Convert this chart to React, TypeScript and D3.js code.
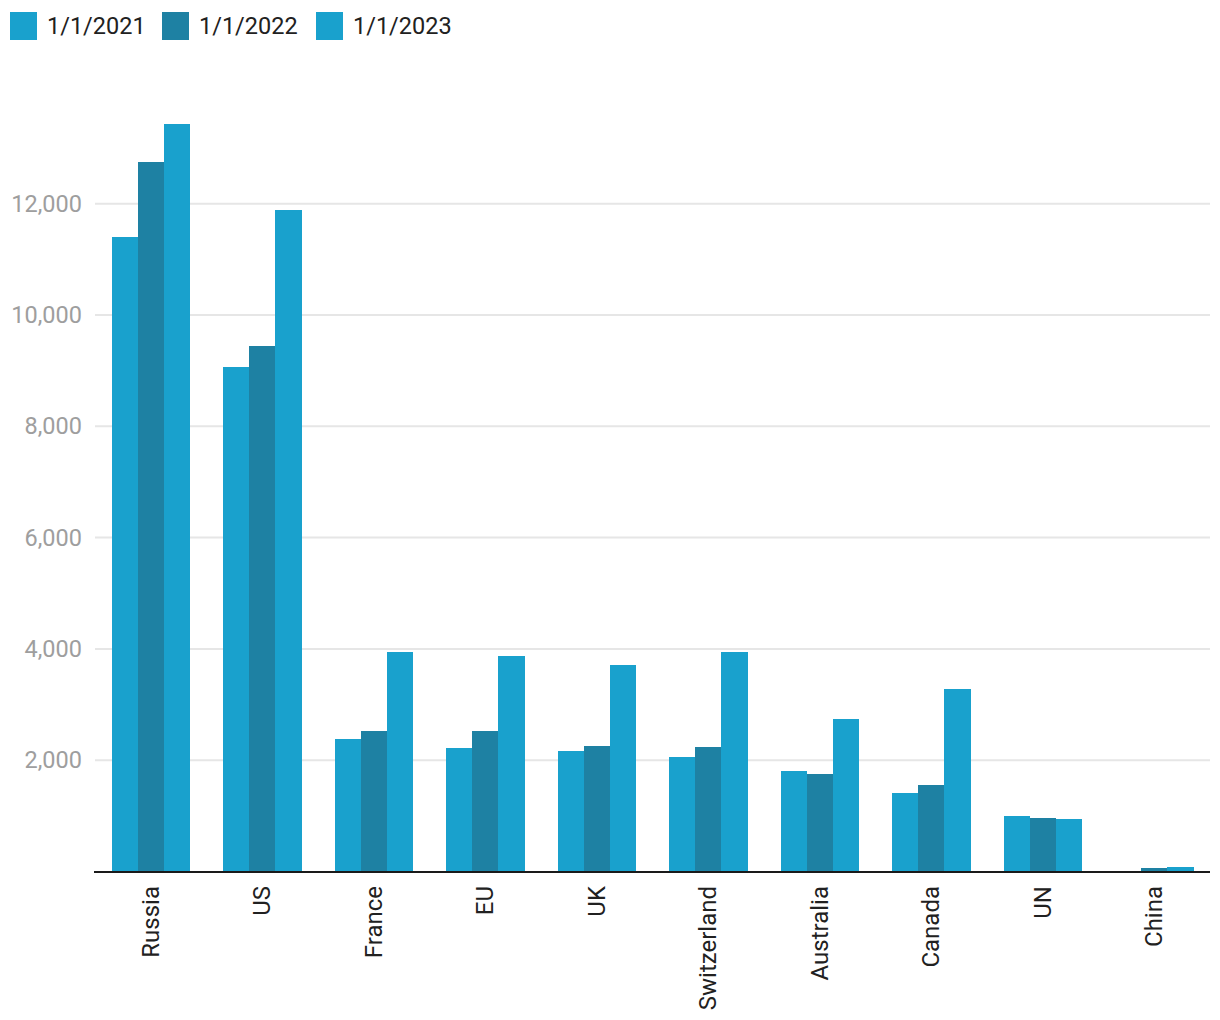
import React from "react";
import * as d3 from "d3";

const categories = ["Russia", "US", "France", "EU", "UK", "Switzerland", "Australia", "Canada", "UN", "China"];
const seriesNames = ["1/1/2021", "1/1/2022", "1/1/2023"];
const values2021 = [11400, 9070, 2380, 2220, 2165, 2055, 1805, 1410, 1000, 0];
const values2022 = [12750, 9440, 2525, 2525, 2255, 2235, 1750, 1555, 960, 60];
const values2023 = [13430, 11890, 3945, 3870, 3710, 3945, 2740, 3280, 945, 80];
const yTicks = [2000, 4000, 6000, 8000, 10000, 12000];
const colors = ["#19a1cd", "#1e81a3", "#19a1cd"];

const W = 1220;
const H = 1020;
const FONT = "Roboto, 'Noto Sans', sans-serif";

export default function App() {
  const series = [values2021, values2022, values2023];
  const x0 = d3.scaleBand<string>().domain(categories).range([95, 1210]).paddingInner(0.3).paddingOuter(0.15);
  const x1 = d3.scaleBand<number>().domain([0, 1, 2]).range([0, x0.bandwidth()]);
  const y = d3.scaleLinear().domain([0, 12000]).range([871.5, 203.7]);
  const fmt = d3.format(",");
  const legendX = [10, 162, 316];

  return (
    <svg width={W} height={H} style={{ position: "absolute", left: 0, top: 0, background: "#fff" }} fontFamily={FONT}>
      {/* legend */}
      {seriesNames.map((s, i) => (
        <g key={s}>
          <rect x={legendX[i]} y={12} width={27} height={28} fill={colors[i]} />
          <text x={legendX[i] + 37} y={26} dominantBaseline="central" fontSize={23.5} fill="#212121">
            {s}
          </text>
        </g>
      ))}
      {/* gridlines */}
      {yTicks.map((t) => (
        <g key={t}>
          <line x1={95} x2={1210} y1={y(t)} y2={y(t)} stroke="#e6e6e6" strokeWidth={2} />
          <text x={82} y={y(t)} textAnchor="end" dominantBaseline="central" fontSize={23.5} fill="#9e9e9e">
            {fmt(t)}
          </text>
        </g>
      ))}
      {/* bars */}
      {categories.map((c, ci) => (
        <g key={c} transform={`translate(${x0(c)},0)`}>
          {series.map((vals, si) => (
            <rect
              key={si}
              x={x1(si)}
              y={y(vals[ci])}
              width={x1.bandwidth() + 0.5}
              height={y(0) - y(vals[ci])}
              fill={colors[si]}
              shapeRendering="crispEdges"
            />
          ))}
        </g>
      ))}
      {/* baseline */}
      <line x1={94} x2={1210} y1={y(0) + 0.5} y2={y(0) + 0.5} stroke="#1a1a1a" strokeWidth={2} />
      {/* x labels */}
      {categories.map((c) => {
        const cx = (x0(c) as number) + x0.bandwidth() / 2;
        return (
          <text
            key={c}
            transform={`translate(${cx},886) rotate(-90)`}
            textAnchor="end"
            dominantBaseline="central"
            fontSize={24}
            fill="#212121"
          >
            {c}
          </text>
        );
      })}
    </svg>
  );
}
